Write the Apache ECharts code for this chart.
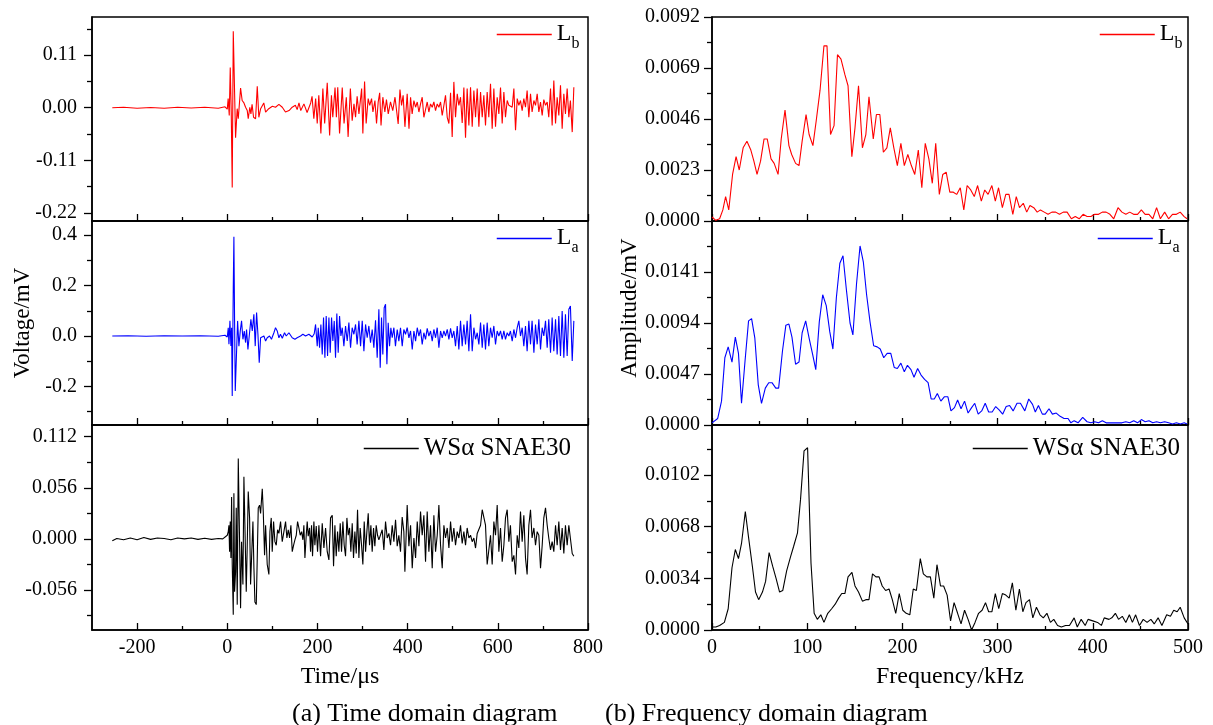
<!DOCTYPE html>
<html><head><meta charset="utf-8">
<script src="https://cdn.jsdelivr.net/npm/echarts@6/dist/echarts.min.js"></script>
<style>html,body{margin:0;padding:0;background:#fff}#c{width:1213px;height:725px}</style>
</head><body><div id="c"></div>
<script>
// ---------------- data ----------------
// time domain: [time µs, voltage mV]
const timeLb = [[-255,0],[-230,0.001],[-200,-0.001],[-170,0.0005],[-140,-0.001],[-110,0.001],[-80,-0.0005],[-50,0.001],[-20,-0.001],[-5,0.002],[0,-0.003],
[2,0.019],[4.4,-0.016],[6.6,0.084],[8.8,-0.009],[11,-0.167],[13.3,0.16],[14.7,0.16],[18.4,-0.063],[22,-0.002],[24.4,-0.023],[29.5,0.041],[33,0.015],[37,0.010],[40.6,0.001],[44.3,-0.006],[46.5,-0.023],[50,0.001],[52.4,-0.013],[55,0.007],[58.3,-0.02],[62.8,-0.023],[66.5,0.045],[70,-0.02],[74,-0.002],[81,0.01],[85,-0.009],[92,-0.002],[100,0.003],[107,0.001],[114.5,0.007],[122,0.001],[129,-0.009],[137,-0.006],[144,0.001],[151,0.005],[155,-0.004],[159,0.01],[163,-0.006],[166,-0.009],[170,0.008],[174,0.012],[177,-0.01],[181,-0.013],[185,0.01],[188,0.024],[192,-0.023],[196,0.019],[199.5,-0.033],[203,0.026],[207.6,-0.054],[212,0.04],[216,-0.033],[221.7,0.052],[227,-0.058],[231,0.026],[234,-0.02],[239,0.042],[242,-0.02],[245,0.043],[249,-0.054],[255,0.042],[259,-0.033],[264,0.022],[268,-0.061],[273,0.04],[277,-0.027],[281,0.008],[284.5,-0.02],[288,0.024],[292,-0.013],[298,0.04],[300.7,-0.054],[304.5,0.055],[308,-0.033],[312.5,0.019],[316,0.005],[320,0.019],[323,-0.009],[327.5,0.015],[331,-0.033],[334.7,0.012],[338,0.031],[341,-0.037],[345,0.022],[349.5,-0.009],[353,0.017],[357,-0.013],[362,0.012],[367,-0.006],[372,0.022],[376,0.019],[379,-0.034],[383,0.038],[386.5,0.005],[390,0.026],[394,-0.04],
[399,0.029],[403,-0.044],[406.5,0.022],[410,-0.013],[413.9,0.015],[417.6,0.001],[421.3,0.012],[425,-0.009],[428.6,0.008],[432.3,0.022],[436,-0.02],[439.7,-0.023],[443.4,0.012],[447.1,-0.009],[450.8,0.008],[454.5,0.001],[458.2,0.012],[461.9,-0.006],[465.6,0.008],[469.3,0.001],[473,0.012],[476.7,-0.016],[480.4,0.005],[484,0.026],[487.8,-0.02],[491.5,-0.033],[495.2,0.031],[498.8,-0.061],[502.5,0.054],[506.2,-0.02],[510,0.029],[513.6,0.005],[517.3,0.022],[521,-0.032],[524.7,0.042],[528.4,-0.063],[532,0.04],[535.8,-0.037],[539.5,0.043],[543.2,-0.04],[546.9,0.036],[550.6,-0.02],[554.3,0.04],[558,-0.04],[561.7,0.033],[565.4,-0.02],[569,0.026],[572.7,-0.037],[576.4,0.033],[580,-0.02],[583.8,0.05],[587.5,-0.044],[591.2,0.04],[594.9,-0.04],[598.6,0.022],[602.3,-0.013],[606,0.042],[609.7,-0.033],[613.4,0.033],[617,-0.02],[620.8,0.015],[624.5,0.005],[628,0.008],[631.9,0.001],[635.6,0.04],[639.3,-0.047],[643,0.019],[646.6,0.005],[650.3,0.015],[654,-0.006],[657.7,0.019],[661.4,0.001],[665,0.036],[668.8,-0.02],[672.5,0.029],[676,-0.009],[680,0.015],[683.6,0.005],[687.3,0.029],[691,-0.009],[694.7,0.012],[698.4,-0.016],[702,0.017],[705.8,0.005],[709.5,0.012],[713,-0.02],[716.9,0.04],[720.5,-0.037],[724.2,0.057],[728,-0.033],[731.6,0.022],[735.3,-0.016],[739,0.047],[742.7,-0.044],[746.4,0.029],[750,-0.013],[753.8,0.04],[757.5,-0.02],[761,0.015],[765,-0.051],[768.6,0.043]];

const timeLa = [[-255,0],[-220,0.001],[-180,-0.001],[-140,0.001],[-100,0],[-60,0.001],[-20,-0.001],[-5,0.003],[0,-0.004],
[2.2,0.033],[3.7,-0.033],[5.9,0.06],[8.1,-0.04],[9.6,0.033],[11,-0.238],[13.3,0.19],[14.7,0.394],[16.2,0.06],[17.7,-0.218],[19.9,-0.212],[22.9,0.06],[25.8,-0.04],[28.8,0.02],[31.7,0.06],[34.7,-0.013],[37.7,0.02],[40.6,-0.026],[42.8,0.026],[45.8,-0.053],[48.7,0],[52.4,0.066],[55.4,0.02],[59,0.086],[62,-0.04],[65,0.093],[68,0.007],[70.9,-0.106],[73.9,-0.007],[77.6,-0.007],[81.3,0],[85,-0.02],[88.6,-0.007],[93.8,0],[98,-0.013],[103.4,0.013],[107,0.033],[110.8,0.02],[114.5,-0.007],[118,0.007],[122,-0.009],[127,0.013],[130.8,0],[136.7,0.013],[144,-0.007],[150,-0.013],[155,-0.007],[162.5,0],[167.7,0.007],[173.6,0],[181,0.007],[188.4,-0.004],[192.8,0.009],
[195.8,0.046],[199.5,-0.04],[201.7,0.033],[204.7,-0.046],[207.6,0.046],[210.6,-0.073],[213.5,0.073],[216.5,-0.086],[219.4,0.079],[222.4,-0.079],[225.4,0.073],[228.3,-0.066],[231.3,0.073],[234.2,-0.02],[237.2,0.06],[240.1,-0.086],[243,0.089],[246,-0.066],[249,0.079],[252,0],[255,0.033],[258.6,-0.04],[262.3,0.04],[266,-0.02],[269.7,0.053],[273.4,-0.046],[277,0.033],[280.8,0.007],[284.5,0.046],[288,-0.033],[291.9,0.06],[295.6,-0.04],[299.3,0.06],[303,-0.06],[306.7,0.046],[310.3,-0.007],[314,0.04],[317.7,-0.026],[321.4,0.026],[325.1,-0.046],[328.8,0.062],[332.5,-0.086],[336.2,0.106],[339.2,-0.126],[342.1,0.073],[345,-0.073],[348,0.112],[351,0.126],[354,-0.112],[356.9,0.053],[359.9,-0.04],[362.8,0.033],[365.8,-0.007],[369.5,0.033],[373,-0.04],[376.9,0.026],[380.5,-0.02],[384.2,0.033],[388,-0.04],[391.6,0.026],[395.3,0.007],
[399,0.033],[402.8,-0.007],[406.5,0.02],[410.2,-0.053],[413.9,0.02],[417.6,-0.02],[421.3,0.033],[425,0],[428.6,0.026],[432.3,-0.033],[436,0.013],[439.7,-0.013],[443.4,0.03],[447.1,0],[450.8,0.02],[454.5,-0.02],[458.2,0.026],[461.9,-0.007],[465.6,0.033],[469.3,-0.046],[473,0.02],[476.7,-0.007],[480.4,0.02],[484,0],[487.8,0.026],[491.5,-0.013],[495.2,0.03],[498.8,-0.007],[502.5,0.02],[506.2,-0.04],[510,0.04],[513.6,-0.053],[517.3,0.06],[521,-0.04],[524.7,0.046],[528.4,-0.033],[532,0.06],[535.8,-0.06],[539.5,0.086],[543.2,-0.06],[546.9,0.033],[550.6,-0.013],[554.3,0.013],[558,-0.033],[561.7,0.053],[565.4,-0.046],[569,0.046],[572.7,-0.053],[576.4,0.053],[580,-0.04],[583.8,0.033],[587.5,-0.007],[591.2,0.04],[594.9,-0.033],[598.6,0.02],[602.3,0],[606,0.02],[609.7,-0.013],[613.4,0.02],[617,-0.013],[620.8,0.013],[624.5,0],[628,0.02],[631.9,-0.02],[635.6,0.026],[639.3,-0.007],[643,0.033],[646.6,0.06],[650.3,0],[654,0.033],[657.7,-0.04],[661.4,0.04],[665,-0.06],[668.8,0.06],[672.5,-0.033],[676,0.06],[680,-0.066],[683.6,0.046],[687.3,-0.033],[691,0.066],[694.7,-0.053],[698.4,0.033],[702,0],[705.8,0.06],[709.5,-0.046],[713,0.066],[716.9,-0.066],[720.5,0.073],[724.2,-0.06],[728,0.066],[731.6,-0.073],[735.3,0.079],[739,-0.079],[742.7,0.099],[746.4,-0.086],[750,0.086],[753.8,-0.079],[757.5,0.106],[761,0.119],[765,-0.099],[768.6,0.06]];

const timeWs = [[-255,-0.002],[-245,0.0005],[-230,-0.001],[-215,0.001],[-200,-0.001],[-185,0.0015],[-170,-0.0005],[-155,0.001],[-140,0.0005],[-125,-0.001],[-110,0.001],[-95,0],[-80,0.001],[-65,-0.0005],[-50,0.0008],[-35,-0.0005],[-20,0.0005],[-10,0],[0,0.004],
[2.2,0.008],[3.7,0.015],[5.1,-0.014],[6.6,0.019],[8.1,-0.021],[9.6,0.046],[11,-0.028],[13.3,-0.083],[14.7,0.05],[16.2,-0.058],[18.4,-0.036],[19.9,0.034],[22.1,-0.072],[24.4,0.088],[25.8,0.09],[27.3,-0.003],[29.5,-0.076],[31.7,-0.003],[34.7,-0.05],[36.9,0.068],[39.1,0.015],[42.1,-0.058],[44.3,-0.007],[46.5,0.052],[49.5,0.023],[51.7,-0.05],[53.9,-0.021],[56.9,0.019],[59.1,-0.032],[61.3,-0.069],[64.3,-0.072],[66.5,-0.021],[68.7,0.034],[71.6,0.037],[73.9,0.028],[77.6,0.055],[79.8,0.03],[82.7,-0.018],[85,0.015],[88.6,-0.028],[92.3,-0.039],[94.6,0.008],[97.5,0.023],[99.7,-0.014],[102.7,0.019],[105.6,-0.003],[108.6,-0.007],[111.6,0.01],[114.5,0.006],[118.2,0.019],[121.9,-0.003],[125.6,0.008],[129.3,0.019],[132.2,0.001],[135.2,0.01],[138.2,0.001],[141.1,0.015],[144.1,-0.014],[147,-0.007],[150,-0.001],[153,0.004],[155.9,0.019],[158.8,0.012],[161.8,0.004],[164.8,0.008],[167.7,-0.001],[169.9,0.015],[172.2,-0.021],[175.1,0.004],[177.3,0.019],[179.5,0.003],[182.5,0.012],[184.7,-0.014],[186.9,0.015],[189.1,-0.019],[192.1,0.019],[194.3,-0.007],[197.3,0.014],[200.2,-0.014],[203.2,0.015],[206.9,-0.019],[210.6,0.017],[214.3,-0.01],[218,0.012],[221.7,-0.014],[225.4,-0.023],[229,0.023],[232.8,0.026],[235.7,-0.03],[238.7,0.015],[241.6,-0.019],[244.6,0.008],[247.5,-0.014],[250.5,0.017],[253.4,-0.014],[256.4,0.019],[259.3,-0.007],[262.3,-0.019],[265.3,0.023],[268.2,0.004],[271.2,0.012],[274.1,-0.014],[277.1,0.017],[280,-0.021],[283,0.008],[286,-0.016],[288.9,0.032],[291.9,-0.021],[294.8,0.012],[297.8,-0.007],[300.7,-0.028],[303.7,0.019],[306.7,-0.014],[309.6,0.008],[312.6,0.028],[315.5,-0.007],[318.5,0.015],[321.4,-0.014],[324.4,0.012],[327.3,-0.008],[330.3,0.015],[333.3,0.004],[336.2,-0.001],[339.9,-0.003],[343.6,0.01],[347.3,-0.012],[351,0.019],[354.7,0.001],[358.4,0.006],[362.1,-0.007],[365.8,0.015],[369.5,-0.003],[373.2,0.021],[376.9,-0.008],[380.5,0.004],[384.2,-0.014],[387.9,0.024],[391.6,0.008],[393.9,-0.036],
[399,0.037],[402.8,-0.008],[406.5,0.015],[410.2,-0.032],[413.9,0.001],[417.6,-0.021],[421.3,0.019],[425,-0.008],[428.6,0.03],[432.3,0.004],[436,0.026],[439.7,-0.025],[443.4,0.03],[447.1,-0.014],[450.8,0.015],[454.5,-0.032],[458.2,0.026],[461.9,-0.014],[465.6,0.004],[469.3,0.037],[473,-0.007],[476.7,-0.032],[480.4,0.015],[484,0.001],[487.8,0.012],[491.5,-0.01],[495.2,0.019],[498.8,-0.003],[502.5,0.012],[506.2,-0.007],[510,0.008],[513.6,0.001],[517.3,0.015],[521,-0.005],[524.7,0.008],[528.4,-0.007],[532,0.012],[535.8,0.001],[539.5,0.004],[543.2,-0.003],[546.9,0.001],[550.6,-0.01],[554.3,0.006],[558,0.004],[561.7,0.015],[565.4,0.032],[569,0.03],[572.7,0.015],[576.4,-0.028],[580,-0.03],[583.8,0.004],[587.5,-0.028],[591.2,0.019],[594.9,0.004],[598.6,0.037],[602.3,-0.014],[606,0.012],[609.7,-0.025],[613.4,-0.007],[617,0.023],[620.8,0.032],[624.5,-0.003],[628,0.015],[631.9,-0.025],[635.6,-0.018],[639.3,-0.039],[643,0.004],[646.6,-0.01],[650.3,0.03],[654,-0.003],[657.7,0.026],[661.4,-0.021],[665,-0.039],[668.8,0.015],[672.5,0.032],[676,0.001],[680,0.012],[683.6,-0.007],[687.3,0.008],[691,0.004],[694.7,-0.032],[698.4,-0.007],[702,0.023],[705.8,0.034],[709.5,0.015],[713,0.001],[716.9,-0.012],[720.5,-0.003],[724.2,-0.014],[728,0.015],[731.6,-0.007],[735.3,0.019],[739,-0.012],[742.7,0.012],[746.4,-0.016],[750,0.015],[753.8,-0.007],[757.5,0.015],[761,0.015],[765,-0.016],[768.6,-0.019]];

// frequency domain: [frequency kHz, amplitude mV]
const freqLb = [[0,0.00018],[4,0.00003],[8,0.0001],[11.4,0.0005],[14.3,0.0011],[17.6,0.0005],[21.6,0.0021],[25.3,0.0029],[28.6,0.0023],[32.7,0.0033],[36.7,0.0036],[40.8,0.0032],[44,0.0027],[47.3,0.0021],[51,0.0027],[54.7,0.0037],[58,0.0037],[62,0.0028],[65.3,0.0026],[69.4,0.0021],[72.7,0.0037],[76.7,0.0050],[80.8,0.0034],[83.7,0.0030],[87.8,0.0026],[91.4,0.0025],[94.7,0.0036],[98.8,0.0048],[102,0.0039],[106,0.0034],[109.4,0.0045],[113.5,0.0059],[117.6,0.0079],[120.8,0.0079],[124.5,0.0039],[128.2,0.0043],[131.8,0.0075],[135.5,0.0073],[139.6,0.0066],[142.9,0.0061],[146.9,0.0029],[150.2,0.0042],[153.9,0.0061],[158,0.0033],[161.6,0.0039],[164.9,0.0056],[169.4,0.0037],[172.7,0.0048],[176.3,0.0048],[180,0.0031],[183.7,0.0033],[187.3,0.0042],[191,0.0033],[194.7,0.0025],[198.4,0.0035],[202,0.0025],[205.7,0.0030],[209.4,0.0025],[213,0.0021],[216.7,0.0032],[220.4,0.0015],[224,0.0035],[227.8,0.0028],[231.4,0.0017],[235,0.0035],[238.8,0.0012],[242.4,0.0021],[246,0.0022],[249.8,0.0013],[253.5,0.0013],[257,0.0012],[260.8,0.0015],[264.5,0.0005],[268,0.0016],[271.8,0.0014],[275.5,0.0011],[279,0.0016],[282.9,0.0009],[286.5,0.0014],[290,0.0012],[294,0.0016],[297.6,0.0009],[301,0.0015],[305,0.0006],[308.6,0.0012],[312,0.0012],[316,0.0003],[319.6,0.0011],[323,0.0006],[327,0.0008],[330.6,0.0004],[334,0.0007],[338,0.0006],[341.6,0.0004],[345,0.0005],[349,0.0004],[353,0.0003],[357,0.0004],[361,0.0004],[365,0.0003],[369,0.0004],[373,0.0004],[377.5,0.0001],[381.6,0.0002],[385.7,0.0001],[389.8,0.0003],[394,0.0002],[398,0.0002],[402,0.0003],[406,0.0003],[410,0.0004],[414,0.0004],[418,0.0003],[422,0.0001],[426.5,0.0006],[430.6,0.0004],[434.7,0.0003],[438.8,0.0004],[442.9,0.0003],[447,0.0003],[451,0.0005],[455,0.0003],[459,0.0003],[463,0.0001],[467,0.0006],[471,0.0001],[475.5,0.0004],[479.6,0.0001],[483.7,0.0003],[487.8,0.0003],[491.8,0.0004],[496,0.0002],[499,0.0001]];

const freqLa = [[0,0.0002],[6,0.0006],[10,0.0022],[13.5,0.0062],[17,0.0072],[21,0.0058],[24.5,0.0081],[27.8,0.0066],[31,0.0020],[34.7,0.0059],[38.4,0.0096],[41.6,0.0098],[45,0.0080],[48.6,0.0037],[52,0.0020],[56,0.0034],[59.6,0.0039],[63,0.0039],[67,0.0034],[70,0.0034],[74,0.0068],[77.6,0.0092],[80.8,0.0093],[84,0.0081],[87.8,0.0056],[91.4,0.0058],[94.7,0.0085],[98.4,0.0096],[102,0.0080],[105.7,0.0065],[109,0.0051],[112.7,0.0095],[116.3,0.0120],[120,0.0110],[123.7,0.0086],[127,0.0070],[130.6,0.0117],[134.3,0.0149],[137.6,0.0156],[141,0.0126],[145,0.0094],[148,0.0083],[151.8,0.0130],[155.5,0.0165],[159,0.0150],[162.4,0.0120],[166,0.0095],[169.8,0.0073],[173.5,0.0072],[176.7,0.0070],[180.4,0.0062],[184,0.0066],[187.8,0.0066],[191.4,0.0053],[194.7,0.0052],[198.4,0.0057],[202,0.0049],[205.3,0.0055],[209,0.0051],[212.2,0.0044],[216,0.0052],[219.6,0.0046],[223.3,0.0042],[227,0.0039],[230.2,0.0024],[233.5,0.0024],[236.7,0.0029],[240.4,0.0022],[244,0.0026],[247.8,0.0026],[251,0.0013],[254.7,0.0016],[258,0.0023],[261.6,0.0015],[265.3,0.0022],[269,0.0011],[272.7,0.0016],[276,0.0020],[279.6,0.0010],[283.3,0.0013],[287,0.0020],[290.6,0.0012],[294.3,0.0012],[298,0.0017],[301.6,0.0014],[305.3,0.0010],[309,0.0017],[312.6,0.0018],[316.3,0.0013],[320.4,0.0020],[324,0.0020],[328.6,0.0013],[332.7,0.0024],[336.7,0.0019],[339.6,0.0012],[342.9,0.0018],[347,0.0010],[350,0.0010],[354,0.0015],[357.6,0.0010],[361.6,0.0011],[365.7,0.0008],[369.8,0.0006],[374,0.0006],[377,0.0002],[380.4,0.0004],[384.5,0.0002],[389.4,0.0007],[394,0.0003],[398,0.0002],[402,0.0003],[406,0.0002],[410,0.0004],[414,0.0002],[418,0.0002],[422,0.0002],[426.5,0.0002],[430.6,0.0002],[434.7,0.0003],[438.8,0.0002],[443,0.0004],[447,0.0002],[451,0.0005],[455,0.0003],[459,0.0004],[463,0.0002],[467,0.0003],[471,0.0002],[475.5,0.0003],[479.6,0.0002],[483.7,0.0001],[487.8,0.0002],[492,0.0001],[496,0.0002],[499,0.0001]];

const freqWs = [[0,0.0002],[4,0.0002],[8,0.0003],[13,0.0005],[17,0.0014],[21,0.0041],[24.5,0.0053],[27.8,0.0047],[31,0.0057],[35,0.0078],[38.4,0.0061],[42.4,0.0042],[45.7,0.0025],[49,0.0020],[53,0.0025],[56.3,0.0032],[60,0.0051],[63.7,0.0042],[67.3,0.0034],[71,0.0025],[74.3,0.0026],[78.4,0.0039],[82.4,0.0048],[85.7,0.0055],[89.8,0.0064],[93,0.0086],[96.7,0.0118],[100.4,0.0120],[104,0.0044],[107.3,0.0011],[110.6,0.0007],[114.3,0.0010],[117.6,0.0005],[121.6,0.0011],[125.7,0.0014],[129.4,0.0017],[133,0.0021],[136.3,0.0024],[139.6,0.0024],[142.9,0.0035],[147,0.0038],[150.2,0.0029],[153.9,0.0025],[158,0.0019],[161.6,0.0020],[164.9,0.0020],[168.6,0.0037],[172.2,0.0035],[175.5,0.0035],[178.8,0.0029],[182.4,0.0026],[186,0.0027],[189.4,0.0020],[193,0.0011],[196.7,0.0024],[200.4,0.0013],[204,0.0011],[207.8,0.0010],[211.4,0.0027],[214.7,0.0026],[218.8,0.0047],[222,0.0037],[225.7,0.0035],[229.4,0.0035],[233,0.0021],[236.3,0.0043],[240,0.0029],[243.3,0.0029],[247,0.0023],[250.6,0.0006],[254.3,0.0018],[258,0.0011],[261.6,0.0004],[265.3,0.0013],[269,0.0007],[272.7,0.0000],[276.3,0.0005],[280,0.0011],[283.7,0.0013],[287.3,0.0018],[290.6,0.0012],[294,0.0012],[297.6,0.0024],[301.2,0.0014],[305,0.0024],[308.6,0.0023],[312.2,0.0021],[315.5,0.0031],[319.2,0.0013],[322.9,0.0027],[326.5,0.0012],[329.8,0.0018],[333.5,0.0020],[337,0.0008],[340.8,0.0015],[344.5,0.0010],[348,0.0008],[351.8,0.0011],[355.5,0.0005],[359,0.0007],[363,0.0003],[367,0.0002],[371.4,0.0003],[375.5,0.0003],[380.4,0.0008],[383.7,0.0002],[387.8,0.0007],[392,0.0003],[395,0.0007],[400,0.0006],[405,0.0005],[409,0.0003],[412,0.0008],[417,0.0007],[420,0.0008],[423.7,0.0011],[427,0.0007],[431,0.0009],[434.7,0.0005],[438.4,0.0010],[441.6,0.0005],[445,0.0010],[449,0.0003],[453,0.0007],[457,0.0005],[461,0.0007],[464.5,0.0004],[468.6,0.0008],[472.6,0.0003],[477.6,0.0010],[481.6,0.0009],[485,0.0013],[488.6,0.0012],[491.8,0.0015],[496,0.0008],[500,0.0004]];

// tick values
const timeTicks = [-200, 0, 200, 400, 600, 800];
const timeMinorTicks = [-100, 100, 300, 500, 700];
const freqTicks = [0, 100, 200, 300, 400, 500];
const freqMinorTicks = [50, 150, 250, 350, 450];
const lbTimeTicks = [-0.22, -0.11, 0, 0.11];
const lbTimeMinor = [-0.165, -0.055, 0.055, 0.165];
const laTimeTicks = [-0.2, 0, 0.2, 0.4];
const laTimeMinor = [-0.3, -0.1, 0.1, 0.3];
const wsTimeTicks = [-0.056, 0, 0.056, 0.112];
const wsTimeMinor = [-0.084, -0.028, 0.028, 0.084];
const lbFreqTicks = [0, 0.0023, 0.0046, 0.0069, 0.0092];
const lbFreqMinor = [0.00115, 0.00345, 0.00575, 0.00805];
const laFreqTicks = [0, 0.0047, 0.0094, 0.0141];
const laFreqMinor = [0.00235, 0.00705, 0.01175, 0.01645];
const wsFreqTicks = [0, 0.0034, 0.0068, 0.0102];
const wsFreqMinor = [0.0017, 0.0051, 0.0085, 0.0119];

// ---------------- layout ----------------
const FONT = 'Liberation Serif';
const INK = '#000';
const panels = [
  {grid:{left:92, width:496, top:17, height:204}, x:[-300,800], xt:timeTicks, xm:timeMinorTicks, y:[-0.2369,0.1897], yt:lbTimeTicks, ym:lbTimeMinor, dec:2, data:timeLb, name:'Lb', color:'#ff0000', xLabel:false, lm:15},
  {grid:{left:92, width:496, top:221, height:204}, x:[-300,800], xt:timeTicks, xm:timeMinorTicks, y:[-0.353,0.4563], yt:laTimeTicks, ym:laTimeMinor, dec:1, data:timeLa, name:'La', color:'#0000ff', xLabel:false, lm:15, yName:'Voltage/mV', yGap:58, yPad:[0,0,0,0]},
  {grid:{left:92, width:496, top:425, height:205}, x:[-300,800], xt:timeTicks, xm:timeMinorTicks, y:[-0.0998,0.1248], yt:wsTimeTicks, ym:wsTimeMinor, dec:3, data:timeWs, name:'WS', color:'#000000', xLabel:true, lm:15, xName:'Time/\u03bcs'},
  {grid:{left:712, width:476, top:17, height:204}, x:[0,500], xt:freqTicks, xm:freqMinorTicks, y:[0,0.0092], yt:lbFreqTicks, ym:lbFreqMinor, dec:4, data:freqLb, name:'Lb', color:'#ff0000', xLabel:false, lm:12},
  {grid:{left:712, width:476, top:221, height:204}, x:[0,500], xt:freqTicks, xm:freqMinorTicks, y:[0,0.0188], yt:laFreqTicks, ym:laFreqMinor, dec:4, data:freqLa, name:'La', color:'#0000ff', xLabel:false, lm:12, yName:'Amplitude/mV', yGap:71, yPad:[0,0,0,30]},
  {grid:{left:712, width:476, top:425, height:205}, x:[0,500], xt:freqTicks, xm:freqMinorTicks, y:[0,0.0135], yt:wsFreqTicks, ym:wsFreqMinor, dec:4, data:freqWs, name:'WS', color:'#000000', xLabel:true, lm:12, xName:'Frequency/kHz'}
];
const legendPos = [
  {left:491, top:17}, {left:491, top:221}, {left:358, top:431},
  {left:1094, top:17}, {left:1092, top:221}, {left:967, top:431}
];

const grids = [], xAxes = [], yAxes = [], series = [], legends = [];
const lineInk = {color: INK, width: 1.5};
panels.forEach((p, i) => {
  grids.push(Object.assign({show:true, borderColor:INK, borderWidth:1.5, backgroundColor:'transparent'}, p.grid));
  xAxes.push({type:'value', gridIndex:i, min:p.x[0], max:p.x[1], position:'bottom',
    axisLine:{show:true, onZero:false, lineStyle:lineInk},
    axisTick:{show:true, inside:true, length:7, customValues:p.xt, lineStyle:{color:INK, width:1.3}},
    axisLabel:{show:p.xLabel, customValues:p.xt, margin:8, color:INK, fontFamily:FONT, fontSize:20},
    splitLine:{show:false},
    name:p.xName || '', nameLocation:'middle', nameGap:35,
    nameTextStyle:{color:INK, fontFamily:FONT, fontSize:24}});
  xAxes.push({type:'value', gridIndex:i, min:p.x[0], max:p.x[1], position:'bottom',
    axisLine:{show:false, onZero:false},
    axisTick:{show:true, inside:true, length:4, customValues:p.xm, lineStyle:{color:INK, width:1.3}},
    axisLabel:{show:false}, splitLine:{show:false}});
  yAxes.push({type:'value', gridIndex:i, min:p.y[0], max:p.y[1], position:'left',
    axisLine:{show:true, onZero:false, lineStyle:lineInk},
    axisTick:{show:true, inside:false, length:8, customValues:p.yt, lineStyle:{color:INK, width:1.3}},
    axisLabel:{show:true, customValues:p.yt, margin:p.lm, color:INK, fontFamily:FONT, fontSize:20,
      formatter:(v) => Number(v).toFixed(p.dec)},
    splitLine:{show:false},
    name:p.yName || '', nameLocation:'middle', nameGap:p.yGap || 40,
    nameTextStyle:{color:INK, fontFamily:FONT, fontSize:23, padding:p.yPad || 0}});
  yAxes.push({type:'value', gridIndex:i, min:p.y[0], max:p.y[1], position:'left',
    axisLine:{show:false, onZero:false},
    axisTick:{show:true, inside:false, length:5, customValues:p.ym, lineStyle:{color:INK, width:1.3}},
    axisLabel:{show:false}, splitLine:{show:false}});
  series.push({type:'line', name:p.name, xAxisIndex:2*i, yAxisIndex:2*i, data:p.data,
    symbol:'none', showSymbol:false, color:p.color,
    lineStyle:{color:p.color, width:1.1}, silent:true, animation:false});
  legends.push(Object.assign({data:[p.name], orient:'horizontal', itemWidth:55, itemHeight:14, itemGap:0,
    selectedMode:false,
    itemStyle:{opacity:0, borderWidth:0},
    lineStyle:{width:1.5},
    formatter:(n) => n === 'Lb' ? '{m|L}{s|b}' : (n === 'La' ? '{m|L}{s|a}' : '{w|WS\u03b1 SNAE30}'),
    textStyle:{color:INK, fontFamily:FONT, fontSize:24,
      rich:{
        m:{fontFamily:FONT, fontSize:24, color:INK, lineHeight:25, verticalAlign:'top'},
        s:{fontFamily:FONT, fontSize:16, color:INK, lineHeight:17, padding:[14,0,0,0], verticalAlign:'top'},
        w:{fontFamily:FONT, fontSize:25, color:INK, lineHeight:26}
      }}}, legendPos[i]));
});

const chart = echarts.init(document.getElementById('c'), null, {renderer:'canvas'});
chart.setOption({
  animation:false,
  backgroundColor:'#ffffff',
  title:[
    {text:'(a) Time domain diagram', left:287, top:696, textStyle:{fontFamily:FONT, fontSize:26, fontWeight:'normal', color:INK}},
    {text:'(b) Frequency domain diagram', left:600, top:696, textStyle:{fontFamily:FONT, fontSize:26, fontWeight:'normal', color:INK}}
  ],
  legend:legends,
  grid:grids,
  xAxis:xAxes,
  yAxis:yAxes,
  series:series
});
</script></body></html>
